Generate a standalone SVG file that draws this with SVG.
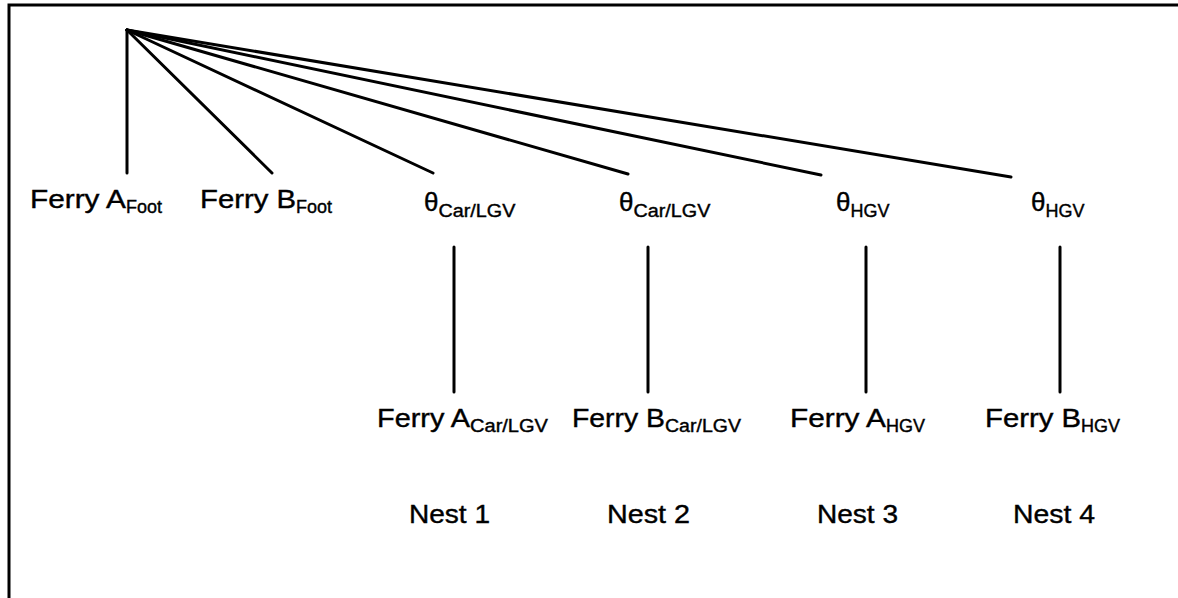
<svg xmlns="http://www.w3.org/2000/svg" width="1178" height="598" viewBox="0 0 1178 598">
  <style>
    .frame { fill: none; stroke: #000; stroke-width: 3; }
    .link { stroke: #000; stroke-width: 3; stroke-linecap: round; fill: none; }
    .lbl { font-family: "Liberation Sans", Arial, sans-serif; font-size: 26px; fill: #000; stroke: #000; stroke-width: 0.4; }
    .sub { font-size: 18px; }
  </style>
  <rect width="1178" height="598" fill="#fff"/>
  <!-- open frame: top and left edges only -->
  <path class="frame" d="M9 600 V5 H1180"/>

  <g id="connectors">
    <line class="link" x1="127" y1="30" x2="127" y2="173"/>
    <line class="link" x1="127" y1="30" x2="272" y2="173"/>
    <line class="link" x1="127" y1="30" x2="433" y2="173"/>
    <line class="link" x1="127" y1="30" x2="628" y2="174"/>
    <line class="link" x1="127" y1="30" x2="821" y2="175"/>
    <line class="link" x1="127" y1="30" x2="1011" y2="177"/>
    <line class="link" x1="454" y1="247" x2="454" y2="392"/>
    <line class="link" x1="648" y1="247" x2="648" y2="392"/>
    <line class="link" x1="866" y1="247" x2="866" y2="392"/>
    <line class="link" x1="1060" y1="247" x2="1060" y2="392"/>
  </g>

  <g id="ferry-a-foot"><text class="lbl" x="30" y="208"><tspan textLength="96" lengthAdjust="spacingAndGlyphs">Ferry A</tspan><tspan class="sub" dy="5">Foot</tspan></text></g>
  <g id="ferry-b-foot"><text class="lbl" x="200" y="208"><tspan textLength="96" lengthAdjust="spacingAndGlyphs">Ferry B</tspan><tspan class="sub" dy="5">Foot</tspan></text></g>
  <g id="theta-car-1"><text class="lbl" x="424" y="211">θ<tspan class="sub" dy="6" textLength="77" lengthAdjust="spacingAndGlyphs">Car/LGV</tspan></text></g>
  <g id="theta-car-2"><text class="lbl" x="619" y="211">θ<tspan class="sub" dy="6" textLength="77" lengthAdjust="spacingAndGlyphs">Car/LGV</tspan></text></g>
  <g id="theta-hgv-1"><text class="lbl" x="836" y="211">θ<tspan class="sub" dy="6">HGV</tspan></text></g>
  <g id="theta-hgv-2"><text class="lbl" x="1031" y="211">θ<tspan class="sub" dy="6">HGV</tspan></text></g>

  <g id="ferry-a-car"><text class="lbl" x="377" y="427"><tspan textLength="93" lengthAdjust="spacingAndGlyphs">Ferry A</tspan><tspan class="sub" dy="5" textLength="78" lengthAdjust="spacingAndGlyphs">Car/LGV</tspan></text></g>
  <g id="ferry-b-car"><text class="lbl" x="572" y="427"><tspan textLength="93" lengthAdjust="spacingAndGlyphs">Ferry B</tspan><tspan class="sub" dy="5" textLength="76" lengthAdjust="spacingAndGlyphs">Car/LGV</tspan></text></g>
  <g id="ferry-a-hgv"><text class="lbl" x="790" y="427"><tspan textLength="96" lengthAdjust="spacingAndGlyphs">Ferry A</tspan><tspan class="sub" dy="5">HGV</tspan></text></g>
  <g id="ferry-b-hgv"><text class="lbl" x="985" y="427"><tspan textLength="96" lengthAdjust="spacingAndGlyphs">Ferry B</tspan><tspan class="sub" dy="5">HGV</tspan></text></g>

  <g id="nest-1"><text class="lbl" x="409" y="523" textLength="81" lengthAdjust="spacingAndGlyphs">Nest 1</text></g>
  <g id="nest-2"><text class="lbl" x="607" y="523" textLength="83" lengthAdjust="spacingAndGlyphs">Nest 2</text></g>
  <g id="nest-3"><text class="lbl" x="817" y="523" textLength="81" lengthAdjust="spacingAndGlyphs">Nest 3</text></g>
  <g id="nest-4"><text class="lbl" x="1013" y="523" textLength="82" lengthAdjust="spacingAndGlyphs">Nest 4</text></g>
</svg>
